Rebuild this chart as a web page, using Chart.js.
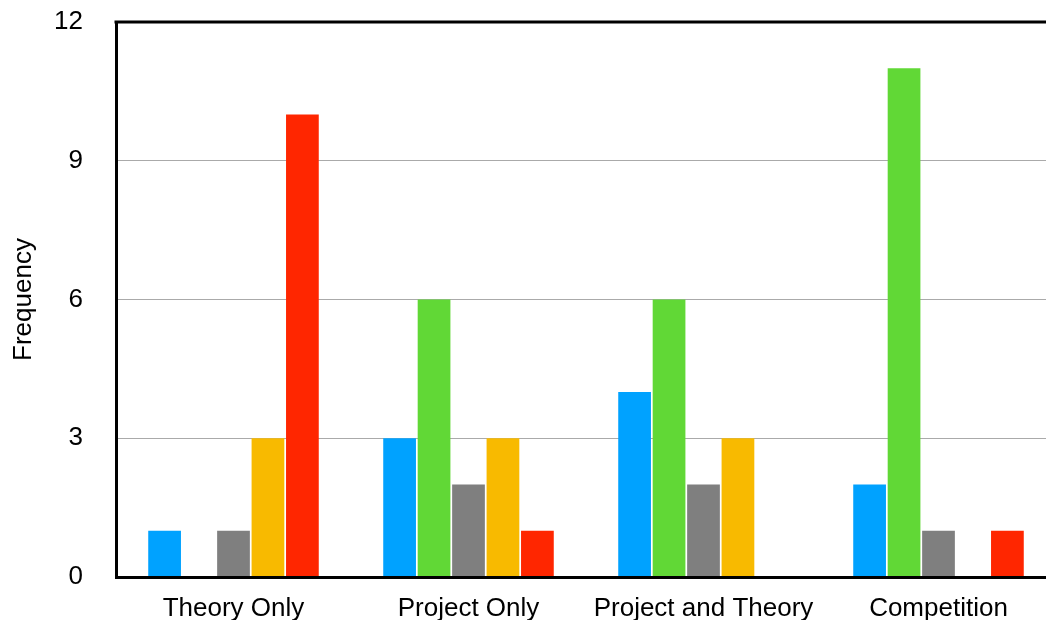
<!DOCTYPE html>
<html>
<head>
<meta charset="utf-8">
<script src="https://cdn.jsdelivr.net/npm/chart.js@4/dist/chart.umd.min.js"></script>
<style>
  html, body { margin: 0; padding: 0; background: #fff; overflow: hidden; }
  #wrap { width: 1056px; height: 620px; }
</style>
</head>
<body>
<div id="wrap"><canvas id="chart"></canvas></div>
<script>
const categories = ['Theory Only', 'Project Only', 'Project and Theory', 'Competition'];
const seriesBlue = [1, 3, 4, 2];
const seriesGreen = [0, 6, 6, 11];
const seriesGray = [1, 2, 2, 1];
const seriesOrange = [3, 3, 3, 0];
const seriesRed = [10, 1, 0, 1];
const yTicks = [0, 3, 6, 9, 12];

const colors = ['#00A2FF', '#61D836', '#7F7F7F', '#F8BA00', '#FF2600'];
const allSeries = [seriesBlue, seriesGreen, seriesGray, seriesOrange, seriesRed];

const font = { family: 'Liberation Sans, Helvetica, Arial, sans-serif', size: 26 };

// ligne du haut du cadre
const topBorder = {
    id: 'topBorder',
    afterDraw(chart) {
        const { ctx, chartArea } = chart;
        ctx.save();
        ctx.strokeStyle = '#000';
        ctx.lineWidth = 3;
        ctx.beginPath();
        ctx.moveTo(chartArea.left - 1.5, chartArea.top);
        ctx.lineTo(chartArea.right, chartArea.top);
        ctx.stroke();
        ctx.restore();
    }
};

new Chart(document.getElementById('chart'), {
    type: 'bar',
    data: {
        labels: categories,
        datasets: allSeries.map((s, i) => ({
            data: s,
            backgroundColor: colors[i],
            borderWidth: 0,
            categoryPercentage: 0.733,
            barPercentage: 0.95
        }))
    },
    options: {
        responsive: true,
        maintainAspectRatio: false,
        animation: false,
        layout: { padding: { top: 22, right: 0, bottom: 0, left: 0 } },
        plugins: {
            legend: { display: false },
            tooltip: { enabled: false }
        },
        scales: {
            x: {
                grid: { display: false, drawTicks: false },
                border: { color: '#000', width: 3, z: 1 },
                ticks: { color: '#000', font: font, padding: 16 },
                afterFit: axis => { axis.height = 43; }
            },
            y: {
                min: 0,
                max: 12,
                afterBuildTicks: axis => { axis.ticks = yTicks.map(v => ({ value: v })); },
                afterFit: axis => {
                    axis.width = 116;
                    axis.paddingTop = 0;
                    axis.paddingBottom = 0;
                },
                grid: {
                    color: c => (c.tick.value === 0 || c.tick.value === 12) ? 'rgba(0,0,0,0)' : '#AAAAAA',
                    lineWidth: 1,
                    drawTicks: false
                },
                border: { color: '#000', width: 3 },
                ticks: { color: '#000', font: font, padding: 33 },
                title: { display: true, text: 'Frequency', color: '#000', font: font, padding: { top: 8, bottom: 0 } }
            }
        }
    },
    plugins: [topBorder]
});
</script>
</body>
</html>
